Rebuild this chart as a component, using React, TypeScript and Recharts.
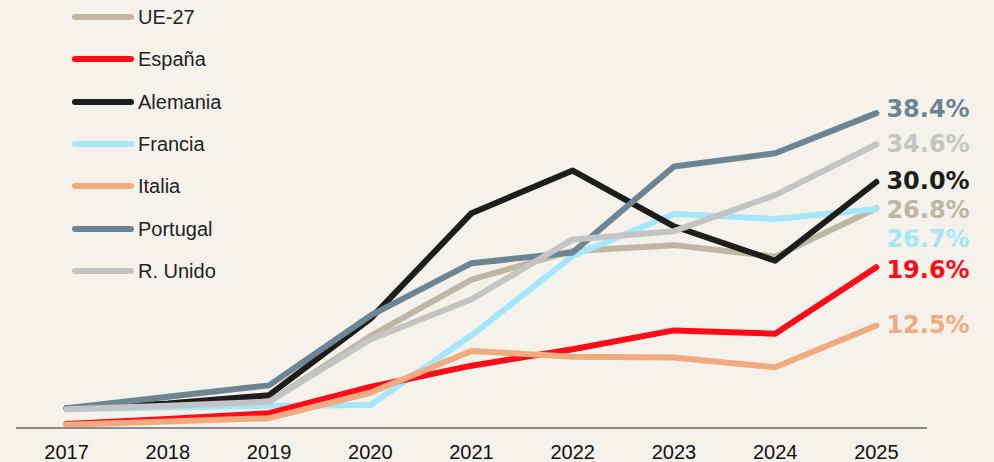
import React from "react";
import { LineChart, Line, XAxis, YAxis, Legend, LabelList } from "recharts";

const years = [2017, 2018, 2019, 2020, 2021, 2022, 2023, 2024, 2025];
const ue27 = [2.4, 2.8, 3.2, 11.2, 18.1, 21.6, 22.3, 20.9, 26.8];
const espana = [0.5, 1.1, 1.8, 5.0, 7.6, 9.6, 11.9, 11.5, 19.6];
const alemania = [2.4, 3.0, 4.0, 13.3, 26.2, 31.4, 24.6, 20.4, 30.0];
const francia = [2.3, 2.5, 2.7, 2.8, 11.3, 21.0, 26.1, 25.5, 26.7];
const italia = [0.4, 0.8, 1.2, 4.3, 9.4, 8.7, 8.6, 7.4, 12.5];
const portugal = [2.4, 3.8, 5.2, 13.7, 20.1, 21.4, 31.9, 33.5, 38.4];
const rUnido = [2.3, 2.7, 3.2, 10.8, 15.7, 23.0, 24.0, 28.4, 34.6];

const endLabels: Record<string, string> = {
  ue27: "26.8%",
  espana: "19.6%",
  alemania: "30.0%",
  francia: "26.7%",
  italia: "12.5%",
  portugal: "38.4%",
  rUnido: "34.6%",
};

type S = { key: string; name: string; color: string; labelDy: number };
const legendOrder: S[] = [
  { key: "ue27", name: "UE-27", color: "#bfb6a6", labelDy: 1 },
  { key: "espana", name: "España", color: "#ff0a17", labelDy: 2 },
  { key: "alemania", name: "Alemania", color: "#1d1d1b", labelDy: -2 },
  { key: "francia", name: "Francia", color: "#a6e6fb", labelDy: 29 },
  { key: "italia", name: "Italia", color: "#f0ab80", labelDy: -1 },
  { key: "portugal", name: "Portugal", color: "#6d8593", labelDy: -5 },
  { key: "rUnido", name: "R. Unido", color: "#c4c4c4", labelDy: -1 },
];
const drawOrder = ["ue27", "francia", "espana", "italia", "alemania", "portugal", "rUnido"];

const data = years.map((year, i) => ({
  year,
  ue27: ue27[i],
  espana: espana[i],
  alemania: alemania[i],
  francia: francia[i],
  italia: italia[i],
  portugal: portugal[i],
  rUnido: rUnido[i],
}));

const BG = "#f4f2ea";

const renderLegend = () => (
  <div style={{ position: "relative", width: 260, height: 290 }}>
    {legendOrder.map((s, i) => (
      <div
        key={s.key}
        style={{
          position: "absolute",
          left: 72,
          top: 17 + i * 42.3 - 12,
          height: 24,
          display: "flex",
          alignItems: "center",
        }}
      >
        <div
          style={{
            width: 62,
            height: 6,
            borderRadius: 3,
            background: s.color,
            marginRight: 4,
          }}
        />
        <span
          style={{
            fontFamily: "'Liberation Sans', Arial, sans-serif",
            fontSize: 20,
            color: "#222",
            lineHeight: "24px",
          }}
        >
          {s.name}
        </span>
      </div>
    ))}
  </div>
);

const XTick = (props: any) => {
  const { x, y, payload } = props;
  return (
    <text
      x={x}
      y={y + 31}
      textAnchor="middle"
      fill="#111"
      fontSize={20}
      fontFamily="'Liberation Sans', Arial, sans-serif"
    >
      {payload.value}
    </text>
  );
};

const makeEndLabel = (s: S) => (props: any) => {
  const { x, y, index } = props;
  if (index !== years.length - 1) return null;
  return (
    <text
      x={x + 10}
      y={y + s.labelDy}
      dy="0.36em"
      textAnchor="start"
      fill={s.color}
      fontSize={24}
      fontWeight="bold"
      fontFamily="'DejaVu Sans', Verdana, sans-serif"
    >
      {endLabels[s.key]}
    </text>
  );
};

export default function App() {
  return (
    <div
      style={{
        position: "absolute",
        left: 0,
        top: 0,
        width: 994,
        height: 462,
        background: BG,
      }}
    >
      <LineChart
        width={994}
        height={462}
        data={data}
        margin={{ top: 100, right: 67, bottom: 0, left: 16 }}
      >
        <XAxis
          dataKey="year"
          type="number"
          domain={[2016.5, 2025.5]}
          ticks={years}
          allowDataOverflow
          height={34}
          tickLine={false}
          tickSize={0}
          tickMargin={0}
          axisLine={{ stroke: "#8c8c8c", strokeWidth: 2 }}
          tick={<XTick />}
          interval={0}
        />
        <YAxis hide domain={[0, 40]} width={0} />
        <Legend
          layout="vertical"
          align="center"
          verticalAlign="middle"
          content={renderLegend}
          wrapperStyle={{ left: 0, top: 0, width: 260, height: 290 }}
        />
        {drawOrder.map((k) => {
          const s = legendOrder.find((t) => t.key === k)!;
          return (
            <Line
              key={k}
              dataKey={k}
              name={s.name}
              stroke={s.color}
              strokeWidth={6}
              strokeLinecap="round"
              strokeLinejoin="round"
              dot={false}
              activeDot={false}
              isAnimationActive={false}
            >
              <LabelList dataKey={k} content={makeEndLabel(s)} />
            </Line>
          );
        })}
      </LineChart>
    </div>
  );
}
